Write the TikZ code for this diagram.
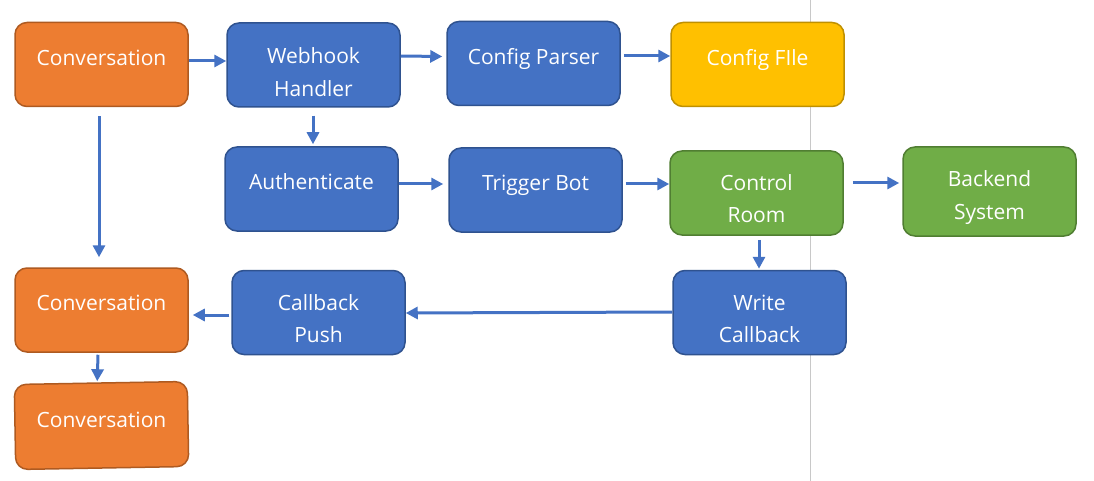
\documentclass[tikz,border=0pt]{standalone}
\usepackage{fontspec}
\setmainfont{Open Sans}
\usetikzlibrary{arrows.meta,calc}
\definecolor{orf}{HTML}{ED7D31}\definecolor{ord}{HTML}{AE5A21}
\definecolor{blf}{HTML}{4472C4}\definecolor{bld}{HTML}{2F528F}
\definecolor{grf}{HTML}{70AD47}\definecolor{grd}{HTML}{507E32}
\definecolor{ylf}{HTML}{FFC000}\definecolor{yld}{HTML}{BF9000}
\definecolor{sepc}{HTML}{C8C8C8}
\tikzset{
  box/.style={rectangle,rounded corners=12pt,line width=1.5pt,minimum width=173pt,minimum height=84pt,inner sep=0pt},
  obox/.style={box,fill=orf,draw=ord},
  bbox/.style={box,fill=blf,draw=bld},
  gbox/.style={box,fill=grf,draw=grd},
  ybox/.style={box,fill=ylf,draw=yld},
  txt/.style={anchor=base,text=white,font=\fontsize{21}{24}\selectfont,inner sep=0pt,yshift=-1.5pt},
  arr/.style={draw=blf,line width=3pt,-{Triangle[length=12pt,width=12pt]}},
}
\begin{document}
\begin{tikzpicture}[x=1pt,y=-1pt]
\useasboundingbox (0,0) rectangle (1094,481);
\fill[white] (0,0) rectangle (1094,481);
\coordinate (septop) at (810,0);
\coordinate (sepbot) at (810,481);
\draw[sepc,line width=1pt] (septop) -- (sepbot);
% boxes
\node[obox] (c1) at (101.5,64.5) {};
\node[bbox] (wh) at (313.5,65) {};
\node[bbox] (cp) at (533.5,63.5) {};
\node[ybox] (cf) at (757.5,64.5) {};
\node[bbox] (au) at (311.5,189) {};
\node[bbox] (tb) at (535.5,190) {};
\node[gbox] (cr) at (756.5,193) {};
\node[gbox,minimum height=89pt] (be) at (989.5,191.5) {};
\node[obox] (c2) at (101.5,310) {};
\node[bbox] (cb) at (318.5,312.5) {};
\node[bbox] (wc) at (759.5,312.5) {};
\node[obox,rotate=1,minimum height=85pt] (c3) at (101.5,425.5) {};
% texts
\node[txt] (t1) at (101.5,64) {Conversation};
\node[txt] (t2) at (313.5,62) {Webhook};
\node[txt] (t3) at (313.5,95) {Handler};
\node[txt] (t4) at (533.5,63) {Config Parser};
\node[txt] (t5) at (757.5,64) {Config FIle};
\node[txt] (t6) at (311.5,188) {Authenticate};
\node[txt] (t7) at (535.5,189) {Trigger Bot};
\node[txt] (t8) at (756.5,189) {Control};
\node[txt] (t9) at (756.5,221) {Room};
\node[txt] (t10) at (989.5,185) {Backend};
\node[txt] (t11) at (989.5,218) {System};
\node[txt] (t12) at (101.5,309) {Conversation};
\node[txt] (t13) at (318.5,309) {Callback};
\node[txt] (t14) at (318.5,341) {Push};
\node[txt] (t15) at (759.5,309) {Write};
\node[txt] (t16) at (759.5,341) {Callback};
\node[txt] (t17) at (101.5,426) {Conversation};
% arrows
\draw[arr] ([yshift=3.5pt]c1.east) -- ([yshift=4pt]wh.west);
\draw[arr] ([yshift=9pt]wh.east) -- ([yshift=7pt,xshift=-4pt]cp.west);
\draw[arr] ([yshift=7.5pt,xshift=3pt]cp.east) -- ([yshift=8.5pt]cf.west);
\draw[arr] ([yshift=-8pt,xshift=-0.5pt]wh.south) -- ([yshift=2pt,xshift=1.5pt]au.north);
\draw[arr] ([yshift=5pt]au.east) -- ([yshift=6pt,xshift=-5pt]tb.west);
\draw[arr] ([yshift=6pt,xshift=3pt]tb.east) -- ([yshift=9pt]cr.west);
\draw[arr] ([yshift=10pt,xshift=9pt]cr.east) -- ([yshift=8.5pt,xshift=-3pt]be.west);
\draw[arr] ([yshift=-4pt,xshift=2.5pt]cr.south) -- ([yshift=1pt,xshift=-0.5pt]wc.north);
\draw[arr] ([yshift=0.5pt]wc.west) -- ([yshift=-0.5pt]cb.east);
\draw[arr] ([yshift=-2.5pt,xshift=-2pt]cb.west) -- ([yshift=-5pt,xshift=4pt]c2.east);
\draw[arr] ([yshift=-9pt,xshift=-2.5pt]c1.south) -- ([yshift=10pt,xshift=-2.5pt]c2.north);
\draw[arr] ([yshift=-2pt,xshift=-3.5pt]c2.south) -- ([yshift=1pt,xshift=-3.5pt]c3.north);
\end{tikzpicture}
\end{document}
